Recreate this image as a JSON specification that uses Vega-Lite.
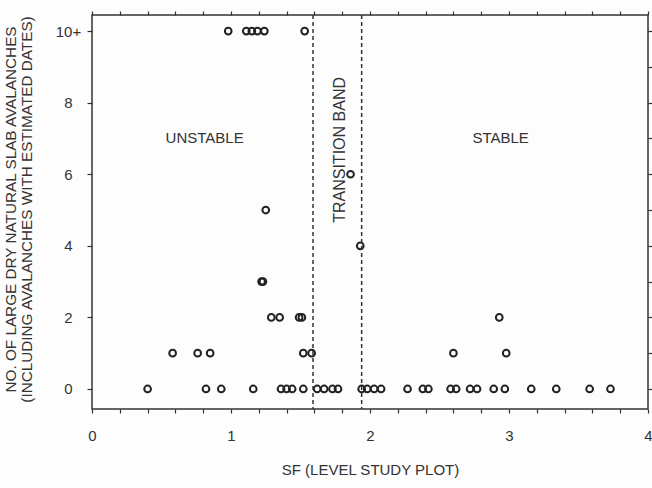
{
  "$schema": "https://vega.github.io/schema/vega-lite/v6.json",
  "width": 556,
  "height": 394,
  "autosize": {"type": "none"},
  "padding": {"left": 92, "top": 15, "right": 4, "bottom": 79},
  "background": "#fdfdfd",
  "config": {
    "view": {"stroke": "#333", "strokeWidth": 1.5},
    "font": "Liberation Sans",
    "axis": {"grid": false, "domain": false, "ticks": true, "tickColor": "#333", "tickWidth": 1.2, "labelColor": "#333", "titleColor": "#333", "labelFont": "Liberation Sans", "titleFont": "Liberation Sans", "labelFontSize": 15, "titleFontSize": 15.3, "titleFontWeight": "normal"}
  },
  "resolve": {"axis": {"x": "independent", "y": "independent"}},
  "layer": [
    {
      "data": {"values": [
        {"sf": 0.98, "n": 10}, {"sf": 1.11, "n": 10}, {"sf": 1.15, "n": 10}, {"sf": 1.19, "n": 10}, {"sf": 1.24, "n": 10}, {"sf": 1.53, "n": 10},
        {"sf": 1.86, "n": 6},
        {"sf": 1.25, "n": 5},
        {"sf": 1.93, "n": 4},
        {"sf": 1.22, "n": 3}, {"sf": 1.23, "n": 3},
        {"sf": 1.29, "n": 2}, {"sf": 1.35, "n": 2}, {"sf": 1.49, "n": 2}, {"sf": 1.51, "n": 2}, {"sf": 2.93, "n": 2},
        {"sf": 0.58, "n": 1}, {"sf": 0.76, "n": 1}, {"sf": 0.85, "n": 1}, {"sf": 1.52, "n": 1}, {"sf": 1.58, "n": 1}, {"sf": 2.6, "n": 1}, {"sf": 2.98, "n": 1},
        {"sf": 0.4, "n": 0}, {"sf": 0.82, "n": 0}, {"sf": 0.93, "n": 0}, {"sf": 1.16, "n": 0}, {"sf": 1.36, "n": 0}, {"sf": 1.4, "n": 0}, {"sf": 1.44, "n": 0}, {"sf": 1.52, "n": 0},
        {"sf": 1.62, "n": 0}, {"sf": 1.67, "n": 0}, {"sf": 1.73, "n": 0}, {"sf": 1.77, "n": 0},
        {"sf": 1.94, "n": 0}, {"sf": 1.98, "n": 0}, {"sf": 2.03, "n": 0}, {"sf": 2.08, "n": 0},
        {"sf": 2.27, "n": 0}, {"sf": 2.38, "n": 0}, {"sf": 2.42, "n": 0}, {"sf": 2.58, "n": 0}, {"sf": 2.62, "n": 0}, {"sf": 2.72, "n": 0}, {"sf": 2.77, "n": 0},
        {"sf": 2.89, "n": 0}, {"sf": 2.97, "n": 0}, {"sf": 3.16, "n": 0}, {"sf": 3.34, "n": 0}, {"sf": 3.58, "n": 0}, {"sf": 3.73, "n": 0}
      ]},
      "mark": {"type": "point", "shape": "circle", "filled": false, "stroke": "#222", "strokeWidth": 2, "size": 45, "opacity": 1},
      "encoding": {
        "x": {"field": "sf", "type": "quantitative", "scale": {"domain": [0, 4], "nice": false, "zero": false},
          "axis": {"orient": "bottom", "values": [0, 0.2, 0.4, 0.6, 0.8, 1, 1.2, 1.4, 1.6, 1.8, 2, 2.2, 2.4, 2.6, 2.8, 3, 3.2, 3.4, 3.6, 3.8, 4],
            "labelExpr": "datum.value % 1 === 0 ? datum.value : ''", "tickSize": 4, "labelPadding": 15, "labelFlush": false, "labelOverlap": false,
            "title": "SF (LEVEL STUDY PLOT)", "titlePadding": 19, "titleFontSize": 15}},
        "y": {"field": "n", "type": "quantitative", "scale": {"domain": [-0.56, 10.45], "nice": false, "zero": false},
          "axis": {"orient": "left", "values": [0, 2, 4, 6, 8, 10], "labelExpr": "datum.value == 10 ? '10+' : datum.value",
            "tickSize": 5, "labelPadding": 19, "labelAlign": "center", "labelBaseline": "middle", "labelOverlap": false,
            "title": ["NO. OF LARGE DRY NATURAL SLAB AVALANCHES", "(INCLUDING AVALANCHES WITH ESTIMATED DATES)"],
            "titleY": 194, "titlePadding": 21, "titleLineHeight": 16}}
      }
    },
    {
      "data": {"values": [{"sf": 1.59}, {"sf": 1.94}]},
      "mark": {"type": "rule", "stroke": "#333", "strokeWidth": 1.5, "strokeDash": [4, 3]},
      "encoding": {
        "x": {"field": "sf", "type": "quantitative",
          "axis": {"orient": "top", "values": [0, 0.2, 0.4, 0.6, 0.8, 1, 1.2, 1.4, 1.6, 1.8, 2, 2.2, 2.4, 2.6, 2.8, 3, 3.2, 3.4, 3.6, 3.8, 4], "labels": false, "tickSize": 4, "title": null}}
      }
    },
    {
      "data": {"values": [{"label": "UNSTABLE", "sf": 0.81, "n": 7}, {"label": "STABLE", "sf": 2.94, "n": 7}]},
      "mark": {"type": "text", "fontSize": 15, "fill": "#333", "font": "Liberation Sans"},
      "encoding": {
        "x": {"field": "sf", "type": "quantitative", "axis": null},
        "y": {"field": "n", "type": "quantitative",
          "axis": {"orient": "right", "values": [0, 1, 2, 3, 4, 5, 6, 7, 8, 9, 10], "labels": false, "tickSize": 4, "title": null}},
        "text": {"field": "label"}
      }
    },
    {
      "data": {"values": [{"label": "TRANSITION BAND", "sf": 1.785, "n": 6.68}]},
      "mark": {"type": "text", "fontSize": 16, "fill": "#333", "angle": 270, "font": "Liberation Sans"},
      "encoding": {
        "x": {"field": "sf", "type": "quantitative", "axis": null},
        "y": {"field": "n", "type": "quantitative", "axis": null},
        "text": {"field": "label"}
      }
    }
  ]
}
